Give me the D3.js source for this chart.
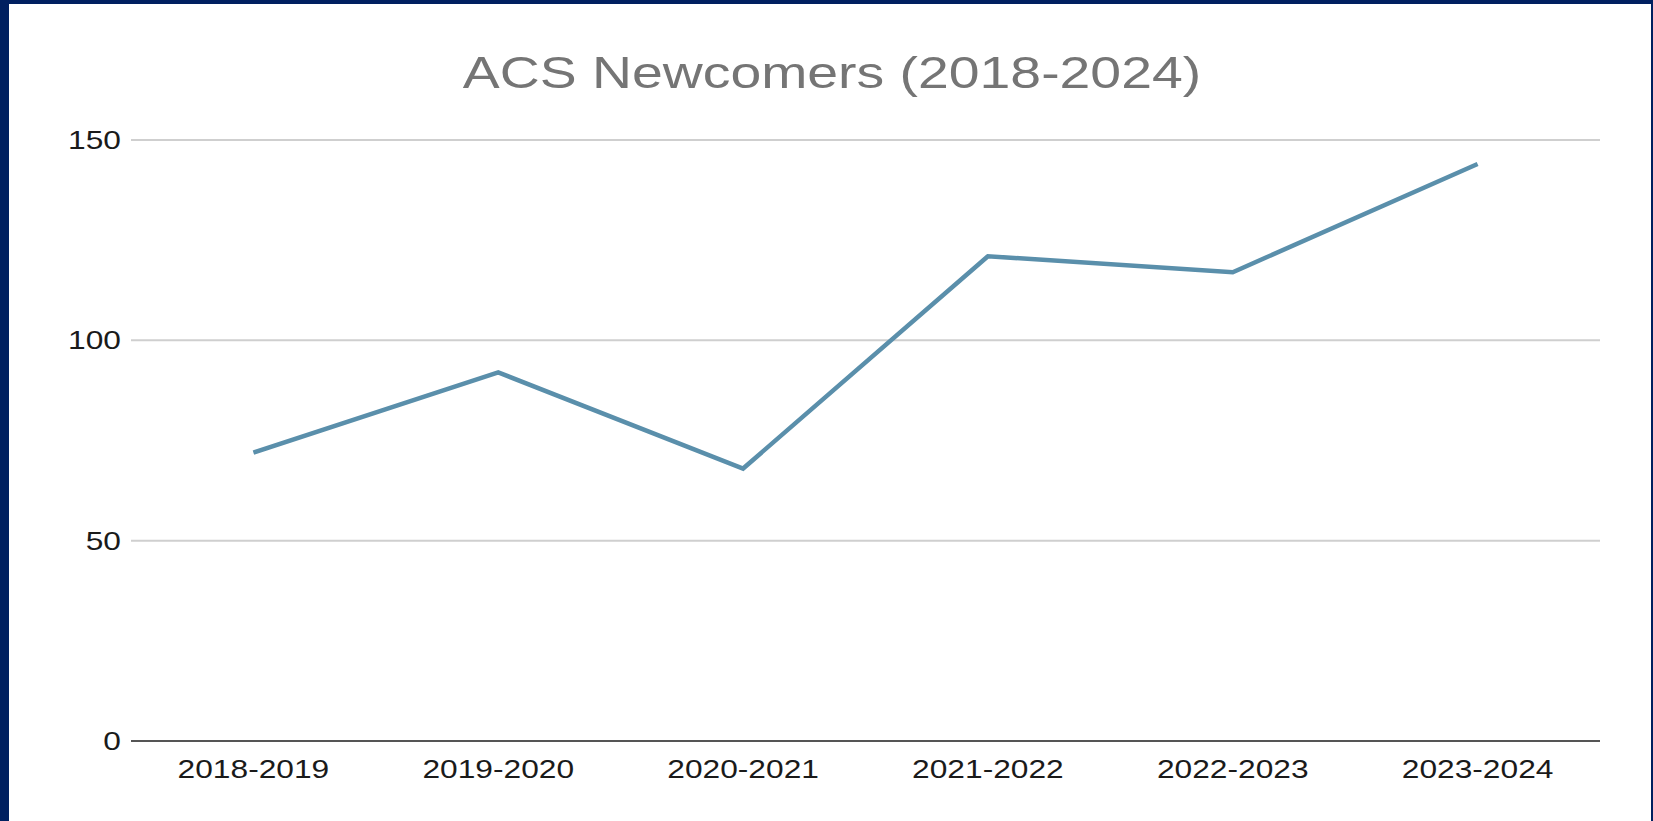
<!DOCTYPE html>
<html>
<head>
<meta charset="utf-8">
<script src="https://cdn.jsdelivr.net/npm/d3@7"></script>
<style>
    html, body {
        margin: 0;
        padding: 0;
        background: #002060;
        overflow: hidden;
    }
    #acs-chart {
        position: absolute;
        left: 9px;
        top: 4px;
        width: 1642px;
        height: 817px;
        background: #ffffff;
    }
    .axis-text {
        font-family: 'Liberation Sans', Arial, sans-serif;
        font-size: 26px;
        fill: #1a1a1a;
    }
    .chart-title {
        font-family: 'Liberation Sans', Arial, sans-serif;
        font-size: 45px;
        fill: #757575;
    }
</style>
</head>
<body>
<div id="acs-chart"></div>
<script>
// Data
var years = ['2018-2019', '2019-2020', '2020-2021', '2021-2022', '2022-2023', '2023-2024'];
var newcomers = [72, 92, 68, 121, 117, 144];
var yTicks = [0, 50, 100, 150];
var titleText = 'ACS Newcomers (2018-2024)';

// text in the picture is stretched sideways
var stretch = 1.22;
var titleStretch = 1.23;

var vis = {};

// offsets are relative to the white panel (9px, 4px into the page)
vis.margin = { top: 136, right: 51, bottom: 80, left: 122 };
vis.width = 1642 - vis.margin.left - vis.margin.right;
vis.height = 817 - vis.margin.top - vis.margin.bottom;

vis.root = d3.select('#acs-chart')
    .append('svg')
    .attr('width', 1642)
    .attr('height', 817);

vis.svg = vis.root.append('g')
    .attr('transform', 'translate(' + vis.margin.left + ',' + vis.margin.top + ')');

// Scales
vis.x = d3.scalePoint()
    .domain(years)
    .range([0, vis.width])
    .padding(0.5);

vis.y = d3.scaleLinear()
    .domain([0, 150])
    .range([vis.height, 0]);

// Gridlines
vis.svg.selectAll('.grid')
    .data(yTicks.filter(function(d) { return d > 0; }))
    .enter()
    .append('line')
    .attr('class', 'grid')
    .attr('x1', 0)
    .attr('x2', vis.width)
    .attr('y1', function(d) { return vis.y(d); })
    .attr('y2', function(d) { return vis.y(d); })
    .attr('stroke', '#cfcfcf')
    .attr('stroke-width', 2);

// Baseline
vis.svg.append('line')
    .attr('x1', 0)
    .attr('x2', vis.width)
    .attr('y1', vis.y(0))
    .attr('y2', vis.y(0))
    .attr('stroke', '#555555')
    .attr('stroke-width', 2);

// Y tick labels
vis.svg.selectAll('.y-label')
    .data(yTicks)
    .enter()
    .append('text')
    .attr('class', 'axis-text y-label')
    .attr('text-anchor', 'end')
    .attr('transform', function(d) {
        return 'translate(-10,' + (vis.y(d) + 9) + ') scale(' + stretch + ',1)';
    })
    .text(function(d) { return d; });

// X tick labels
vis.svg.selectAll('.x-label')
    .data(years)
    .enter()
    .append('text')
    .attr('class', 'axis-text x-label')
    .attr('text-anchor', 'middle')
    .attr('transform', function(d) {
        return 'translate(' + vis.x(d) + ',' + (vis.height + 37) + ') scale(' + stretch + ',1)';
    })
    .text(function(d) { return d; });

// Title
vis.root.append('text')
    .attr('class', 'chart-title')
    .attr('text-anchor', 'middle')
    .attr('transform', 'translate(823,84) scale(' + titleStretch + ',1)')
    .text(titleText);

// Line
vis.line = d3.line()
    .x(function(d, i) { return vis.x(years[i]); })
    .y(function(d) { return vis.y(d); });

vis.svg.append('path')
    .datum(newcomers)
    .attr('fill', 'none')
    .attr('stroke', '#5a8fab')
    .attr('stroke-width', 4.5)
    .attr('d', vis.line);
</script>
</body>
</html>
